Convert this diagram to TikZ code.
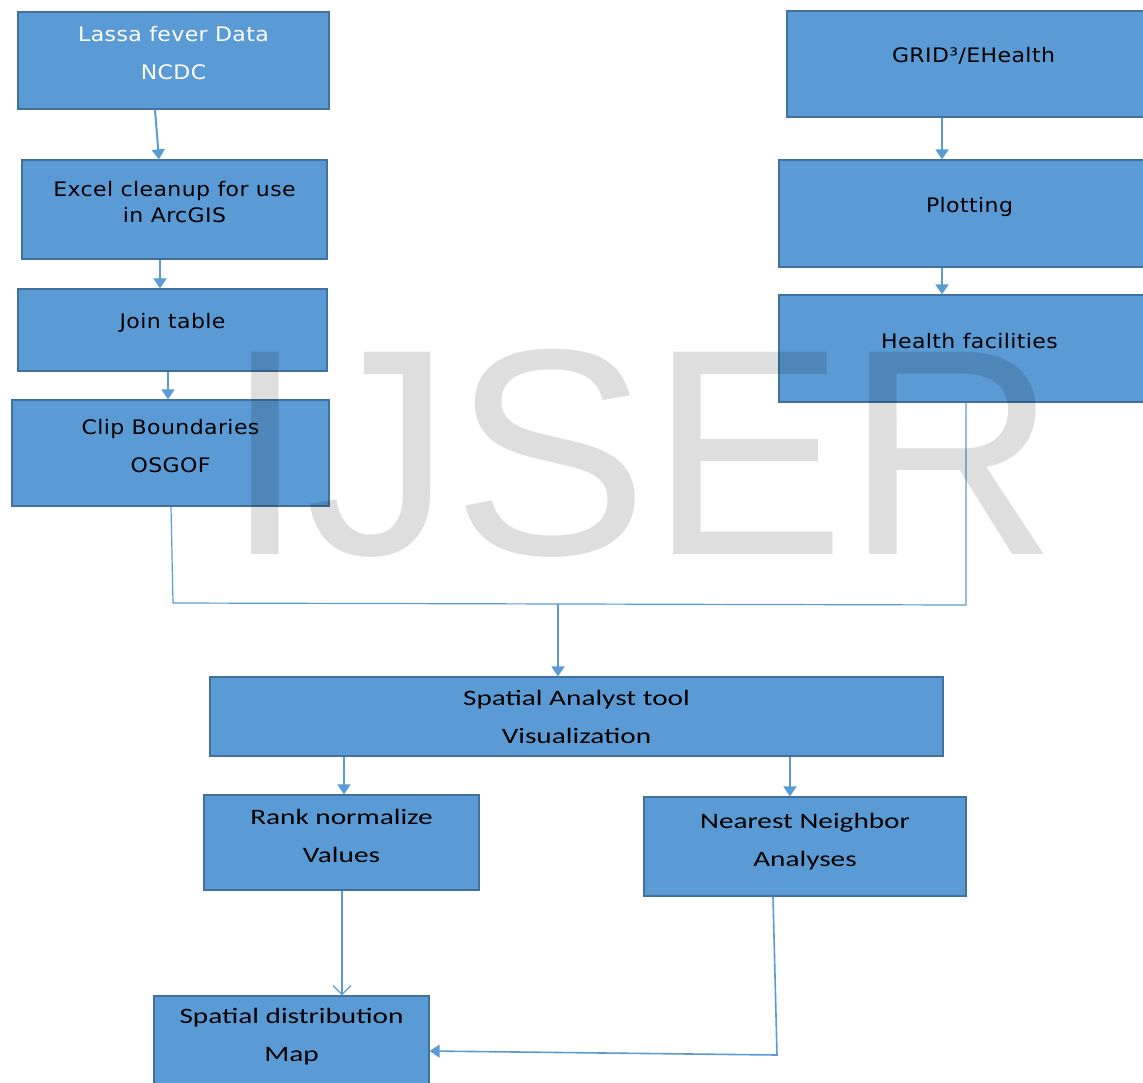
\documentclass[tikz,border=0pt]{standalone}
\usepackage{fontspec}
\usepackage{tikz}
\usetikzlibrary{arrows.meta}
\definecolor{boxblue}{HTML}{5B9BD5}
\definecolor{boxedge}{HTML}{41719C}
\newfontfamily\verdfont[FakeStretch=1.1, LetterSpace=2]{DejaVu Sans}
\newfontfamily\califont[FakeStretch=1.33]{Carlito}
\newfontfamily\markfont{Liberation Sans}

\begin{document}
\begin{tikzpicture}[x=1pt, y=-1pt,
        box/.style={draw=boxedge, fill=boxblue, line width=1.3pt, inner sep=0pt},
        lbl/.style={align=center, inner sep=0pt, yshift=7pt},
        wide/.style={font=\verdfont\fontsize{20}{38}\selectfont},
        slim/.style={font=\califont\fontsize{22}{38}\selectfont},
        arr/.style={-{Triangle[width=13pt,length=10pt]}, line width=2pt, boxblue},
        link/.style={line width=1.2pt, boxblue}]
        \useasboundingbox (0,0) rectangle (1143,1082);
        \clip (0,0) rectangle (1143,1082);
        % left column
        \node[box, minimum width=311pt, minimum height=97pt,
              label={[lbl, wide, text=white]center:{Lassa fever Data\\NCDC}}] (lassa) at (173.5,60.5) {};
        \node[box, minimum width=305pt, minimum height=99pt,
              label={[lbl, wide]center:{Excel cleanup for use\\[-12pt]in ArcGIS}}] (excel) at (174.5,209.5) {};
        \node[box, minimum width=309pt, minimum height=82pt,
              label={[lbl, wide]center:Join table}] (join) at (172.5,330) {};
        \node[box, minimum width=317pt, minimum height=106pt,
              label={[lbl, wide]center:{Clip Boundaries\\OSGOF}}] (clip) at (170.5,453) {};
        % right column
        \node[box, minimum width=373pt, minimum height=106pt,
              label={[lbl, wide, yshift=1pt]center:GRID³/EHealth}] (grid) at (973.5,64) {};
        \node[box, minimum width=381pt, minimum height=107pt,
              label={[lbl, wide]center:Plotting}] (plot) at (969.5,213.5) {};
        \node[box, minimum width=381pt, minimum height=107pt,
              label={[lbl, wide]center:Health facilities}] (health) at (969.5,348.5) {};
        % analysis
        \node[box, minimum width=733pt, minimum height=79pt,
              label={[lbl, slim, yshift=-7pt]center:{Spatial Analyst tool\\Visualization}}] (sat) at (576.5,716.5) {};
        \node[box, minimum width=275pt, minimum height=95pt,
              label={[lbl, slim]center:{Rank normalize\\Values}}] (rank) at (341.5,842.5) {};
        \node[box, minimum width=322pt, minimum height=99pt,
              label={[lbl, slim, yshift=-2pt]center:{Nearest Neighbor\\Analyses}}] (nn) at (805,846.5) {};
        \node[box, minimum width=275pt, minimum height=104pt,
              label={[lbl, slim, yshift=4pt]center:{Spatial distribution\\Map}}] (map) at (291.5,1048) {};

        \coordinate (jl) at (173,603);
        \coordinate (jr) at (966,605);
        \coordinate (jm) at (558,604);
        \coordinate (nb) at (777,1055);

        \draw[arr] ([xshift=-18.5pt]lassa.south) -- ([xshift=-15.5pt]excel.north);
        \draw[arr] ([xshift=-14.5pt]excel.south) -- ([xshift=-12.5pt]join.north);
        \draw[arr] ([xshift=-4.5pt]join.south) -- ([xshift=-2.5pt]clip.north);
        \draw[arr] ([xshift=-31.5pt]grid.south) -- ([xshift=-27.5pt]plot.north);
        \draw[arr] ([xshift=-27.5pt]plot.south) -- ([xshift=-27.5pt]health.north);
        \draw[link] ([xshift=0.5pt]clip.south) -- (jl) -- (jr) -- ([xshift=-3.5pt]health.south);
        \draw[arr] (jm) -- ([xshift=-18.5pt]sat.north);
        \draw[arr] ([xshift=-232.5pt]sat.south) -- ([xshift=2.5pt]rank.north);
        \draw[arr] ([xshift=213.5pt]sat.south) -- ([xshift=-15pt]nn.north);
        \draw[link, -{Straight Barb[width=18pt,length=9pt]}] ([xshift=0.5pt]rank.south) -- ([xshift=50.5pt]map.north);
        \draw[link, line width=1.6pt, -{Triangle[width=13pt,length=10pt]}] ([xshift=-32pt]nn.south) -- (nb) -- ([yshift=-3pt]map.east);

        % watermark
        \node[anchor=base west, inner sep=0pt, text=black, text opacity=0.13,
              font=\markfont\fontsize{294}{294}\selectfont] (mark) at (224,554) {IJSER};
\end{tikzpicture}
\end{document}
